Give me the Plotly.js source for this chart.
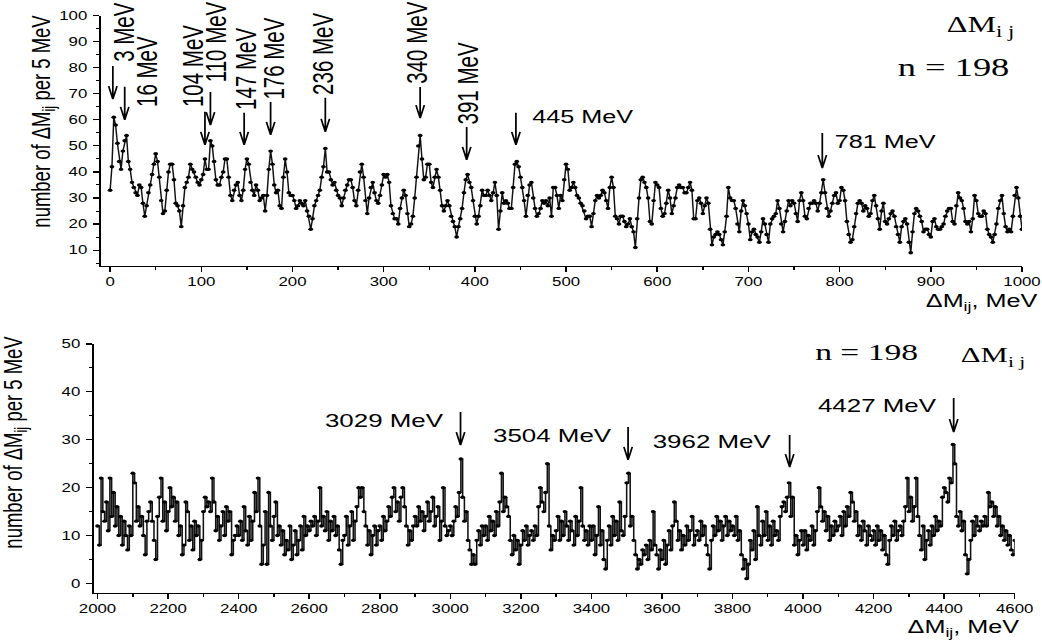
<!DOCTYPE html>
<html><head><meta charset="utf-8">
<script src="https://cdn.plot.ly/plotly-3.0.1.min.js"></script>
<style>
html,body{margin:0;padding:0;background:#fff;overflow:hidden;width:1042px;height:641px;}
#chart{width:744px;height:641px;transform-origin:0 0;}
</style></head><body><div id="chart"></div>
<script>
// ---------------- DATA ----------------
// Upper panel: counts of dM_ij per 5 MeV, sampled every 2 MeV from 0 to 1000 MeV
const topStart = 0, topStep = 2;
const topCounts = [
33,42,61,58,51,44,41,48,52,54, 44,41,36,34,32,31,35,34,28,23,
27,32,35,39,43,47,44,38,29,24, 25,33,40,43,43,37,28,27,25,19,
27,34,36,38,43,41,40,38,36,35,
37,39,45,41,41,52,50,44,37,35, 35,38,40,45,45,38,31,29,33,35,
36,31,29,33,41,45,43,36,33,31, 35,33,29,30,31,25,31,41,48,43,
35,32,33,27,26,38,45,40,32,31,
31,29,26,27,29,28,27,29,25,23, 18,22,27,29,31,33,38,42,49,40,
40,37,35,36,33,31,30,27,30,33, 35,37,37,34,29,27,33,40,43,38,
29,24,30,34,36,32,29,28,31,35,
39,38,39,36,27,24,22,22,20,26, 30,33,31,24,19,20,23,30,38,50,
54,45,37,38,43,43,36,34,38,41, 38,33,27,25,27,29,27,23,21,19,
15,19,22,26,32,37,39,36,34,29,
23,20,23,27,33,31,31,33,31,29, 32,36,31,18,25,32,28,29,28,26,
26,34,43,44,42,38,34,29,23,31, 35,36,30,26,23,24,26,29,28,29,
27,30,23,34,34,31,26,31,29,37,
43,41,33,34,36,34,31,30,28,27, 25,22,23,23,19,24,29,31,30,31,
33,32,29,26,34,38,34,23,22,20, 23,23,21,19,20,22,19,17,11,22,
30,37,38,36,34,30,21,20,29,36,
35,34,26,23,24,28,33,30,24,27, 30,34,35,34,34,32,32,34,36,33,
22,22,29,30,28,24,27,30,28,18, 12,15,16,17,16,14,12,17,23,34,
30,29,29,26,20,17,25,29,27,24,
20,14,17,18,16,15,13,17,22,20, 16,13,20,22,23,24,29,26,20,17,
21,25,29,27,29,28,24,21,29,32, 29,23,22,26,28,28,29,28,25,28,
32,37,32,26,23,25,28,31,32,28,
29,34,33,29,21,16,13,14,19,24, 28,29,28,25,27,26,23,24,29,31,
27,22,18,25,28,21,20,22,24,25, 23,19,16,13,19,21,22,20,13,9,
17,24,26,25,23,21,17,18,18,16,
15,21,22,19,18,18,19,20,23,25, 26,26,21,20,27,32,30,29,26,21,
20,21,17,22,31,29,24,23,23,25, 24,18,16,15,13,16,20,26,29,31,
24,19,17,18,17,23,31,34,30,23,
18
];
// Lower panel: counts per 5 MeV bin from 2000 to 4600 MeV
const botStart = 2000, botStep = 5;
const botCounts = [
12,8,22,15,13,17,11,22,14,19,12,16,10,14,8,13,10,7,12,10,
23,21,13,16,12,14,10,6,13,15,17,13,9,5,14,18,22,13,17,11,
15,20,16,18,13,17,10,12,6,8,17,15,9,12,7,13,10,12,5,9,
15,18,16,17,15,22,17,11,14,9,12,15,10,16,13,15,6,9,10,12,
10,13,9,16,11,8,14,9,13,19,15,22,12,4,8,15,4,19,12,9,
14,17,10,12,8,11,6,9,7,12,5,8,11,6,9,12,7,14,10,12,
11,13,12,14,10,13,20,12,14,11,15,9,13,11,14,10,12,7,4,9,
10,14,8,12,15,9,13,16,20,18,20,15,12,8,11,6,10,12,8,11,
12,9,14,11,13,16,14,18,20,15,17,13,18,20,16,12,8,11,9,12,
14,12,16,13,15,11,14,17,13,15,18,12,14,16,9,13,20,12,10,11,
12,10,13,16,14,19,26,18,13,15,9,7,4,6,4,9,11,8,12,10,
12,9,14,11,13,10,15,12,17,23,15,18,16,14,9,6,10,7,9,4,
8,11,9,12,8,10,11,9,12,10,16,20,17,15,19,25,12,7,10,9,
11,14,9,13,10,15,12,9,13,11,8,14,10,13,20,12,9,11,8,12,
9,12,6,10,16,8,11,5,3,9,12,8,14,10,13,9,17,11,10,14,
21,23,12,14,9,6,3,5,4,7,6,8,5,9,7,15,8,6,3,7,
5,9,4,8,11,7,12,17,13,9,11,7,10,8,12,9,11,14,8,10,
11,9,13,10,12,8,6,3,9,12,10,14,11,13,9,12,14,10,13,11,
12,10,14,9,11,6,3,5,1,4,9,7,11,5,16,10,8,13,10,15,
9,12,8,13,10,11,9,14,16,17,15,18,21,14,18,8,10,6,9,11,
8,11,7,10,9,12,8,11,15,20,16,13,15,11,14,9,12,10,13,11,
12,14,10,15,12,16,14,19,17,13,15,10,12,9,13,11,8,12,10,9,
11,8,12,9,11,7,10,6,4,9,12,10,13,9,11,12,10,13,16,22,
15,18,13,16,22,14,10,7,12,5,9,11,8,12,10,14,11,13,12,18,
20,19,17,22,21,29,25,14,12,15,11,13,6,2,5,9,13,10,14,12,
11,13,12,14,12,19,16,17,14,16,12,14,10,12,9,11,8,10,7,6,
9
];
const topPeaks = [3,16,104,110,147,176,236,340,391,445,781];
const botPeaks = [3029,3504,3962,4427];
const nEvents = 198;
const topXTicks = [0,100,200,300,400,500,600,700,800,900,1000];
const botXTicks = [2000,2200,2400,2600,2800,3000,3200,3400,3600,3800,4000,4200,4400,4600];

// ---------------- LAYOUT CONFIG (positions / styles) ----------------
const FW = 1042, FH = 641, W0 = 744;
const PX = x => x / FW, PY = y => 1 - y / FH;
const SANS = 'Liberation Sans, Arial, Helvetica, sans-serif';
const NARROW = 'Liberation Sans Narrow, Arial Narrow, Liberation Sans, sans-serif';
const SERIF = 'Liberation Serif, Times New Roman, serif';
// arrow tip heights (data units) and shaft lengths (px), label centres (final px), orientation
const topArrowCfg = [[68,33],[60,33],[50.4,33],[58,33],[50.4,32],[54.2,33],[55.4,34],[60.7,31],[44.6,33],[50.4,32],[41.5,35]];
const topLabelCfg = [[123,32,'v'],[147,71,'v'],[192,66,'v'],[216,42,'v'],[245,69,'v'],[274,59,'v'],[322,54,'v'],[417,43,'v'],[467,83,'v'],[582,117,'h'],[885,142,'h']];
const botArrowCfg = [[28.9,33],[25.8,33],[24.3,32],[31.6,34]];
const botLabelCfg = [[384,420],[552,435],[712,441],[878,405]];

const topX = topCounts.map((_, i) => topStart + i * topStep);
const botX = botCounts.map((_, i) => botStart + i * botStep);

const traces = [
  {x: topX, y: topCounts, xaxis:'x', yaxis:'y', mode:'lines+markers',
   line:{color:'#111', width:1.05}, marker:{color:'#000', size:3.4, symbol:'circle'}, hoverinfo:'skip'},
  {x: botX, y: botCounts, xaxis:'x2', yaxis:'y2', mode:'lines+markers',
   line:{color:'#111', width:1.1, shape:'hv'}, marker:{color:'#000', size:3.4, symbol:'circle'}, hoverinfo:'skip'}
];

// arrows: pixel-sized path shapes anchored at the peak position
function arrowShape(xref, yref, x, y, len) {
  return {type:'path', xref, yref, xsizemode:'pixel', ysizemode:'pixel', xanchor:x, yanchor:y,
    path:'M0,' + len + ' L0,0 M-3,13 L0,0 L3,13',
    line:{color:'#000', width:1.25}};
}
const shapes = [];
const ann = [];
topPeaks.forEach((p, i) => {
  shapes.push(arrowShape('x', 'y', p, topArrowCfg[i][0], topArrowCfg[i][1]));
  const c = topLabelCfg[i];
  ann.push({xref:'paper', yref:'paper', x:PX(c[0]), y:PY(c[1]), xanchor:'center', yanchor:'middle',
    text: p + ' MeV', showarrow:false, textangle: c[2] === 'v' ? -90 : 0,
    font: c[2] === 'v' ? {family:NARROW, size:20.5, color:'#000'} : {family:SANS, size:18, color:'#000'}});
});
botPeaks.forEach((p, i) => {
  shapes.push(arrowShape('x2', 'y2', p, botArrowCfg[i][0], botArrowCfg[i][1]));
  const c = botLabelCfg[i];
  ann.push({xref:'paper', yref:'paper', x:PX(c[0]), y:PY(c[1]), xanchor:'center', yanchor:'middle',
    text: p + ' MeV', showarrow:false, font:{family:SANS, size:18.5, color:'#000'}});
});
const txt = (t, x, y, opts) => Object.assign({xref:'paper', yref:'paper', x:PX(x), y:PY(y), text:t, showarrow:false, xanchor:'center', yanchor:'middle'}, opts);
ann.push(txt('ΔM<sub>i j</sub>', 1017, 27, {xanchor:'right', font:{family:SERIF, size:23, color:'#000'}}));
ann.push(txt('n = ' + nEvents, 954, 68, {font:{family:SERIF, size:26, color:'#000'}}));
ann.push(txt('n = ' + nEvents, 867, 352, {font:{family:SERIF, size:24, color:'#000'}}));
ann.push(txt('ΔM<sub>i j</sub>', 958, 356, {xanchor:'left', font:{family:SERIF, size:22, color:'#000'}}));
ann.push(txt('ΔM<sub>ij</sub>, MeV', 1040, 303, {xanchor:'right', font:{family:SANS, size:18, color:'#000'}}));
ann.push(txt('ΔM<sub>ij</sub>, MeV', 1022, 628, {xanchor:'right', font:{family:SANS, size:18, color:'#000'}}));
ann.push(txt('number of ΔM<sub>ij</sub> per 5 MeV', 43, 121, {textangle:-90, font:{family:SANS, size:18.5, color:'#000'}}));
ann.push(txt('number of ΔM<sub>ij</sub> per 5 MeV', 15, 442, {textangle:-90, font:{family:SANS, size:18.5, color:'#000'}}));

const tickFont = {family:SANS, size:12, color:'#000'};
const axBase = {showline:true, linecolor:'#000', linewidth:1.1, ticks:'outside', tickcolor:'#000', tickwidth:1.1,
  showgrid:false, zeroline:false, tickfont:tickFont, fixedrange:true};
const layout = {
  width: W0, height: FH, autosize:false, showlegend:false,
  margin:{l:0, r:0, t:0, b:0, pad:0},
  paper_bgcolor:'#fff', plot_bgcolor:'rgba(0,0,0,0)',
  xaxis: Object.assign({}, axBase, {domain:[PX(101), PX(1022)], range:[-10,1000], anchor:'y',
    tickmode:'array', tickvals: topXTicks, ticklen:5,
    minor:{dtick:50, tick0:0, ticks:'outside', ticklen:3, tickcolor:'#000', tickwidth:1}}),
  yaxis: Object.assign({}, axBase, {domain:[PY(265.7), PY(15.7)], range:[4,100], anchor:'x',
    dtick:10, tick0:0, ticklen:4.3, ticklabelstandoff:2,
    minor:{dtick:5, tick0:0, ticks:'outside', ticklen:2.5, tickcolor:'#000', tickwidth:1}}),
  xaxis2: Object.assign({}, axBase, {domain:[PX(94), PX(1014.7)], range:[1990,4600], anchor:'y2',
    tickmode:'array', tickvals: botXTicks, ticklen:5,
    minor:{dtick:100, tick0:2000, ticks:'outside', ticklen:3, tickcolor:'#000', tickwidth:1}}),
  yaxis2: Object.assign({}, axBase, {domain:[PY(593), PY(344)], range:[-2,50], anchor:'x2',
    dtick:10, tick0:0, ticklen:4.3, ticklabelstandoff:2,
    minor:{dtick:5, tick0:0, ticks:'outside', ticklen:2.5, tickcolor:'#000', tickwidth:1}}),
  shapes: shapes,
  annotations: ann
};
const el = document.getElementById('chart');
el.style.transform = 'scaleX(' + (FW / W0) + ')';
Plotly.newPlot(el, traces, layout, {staticPlot:true, displayModeBar:false});
</script></body></html>
